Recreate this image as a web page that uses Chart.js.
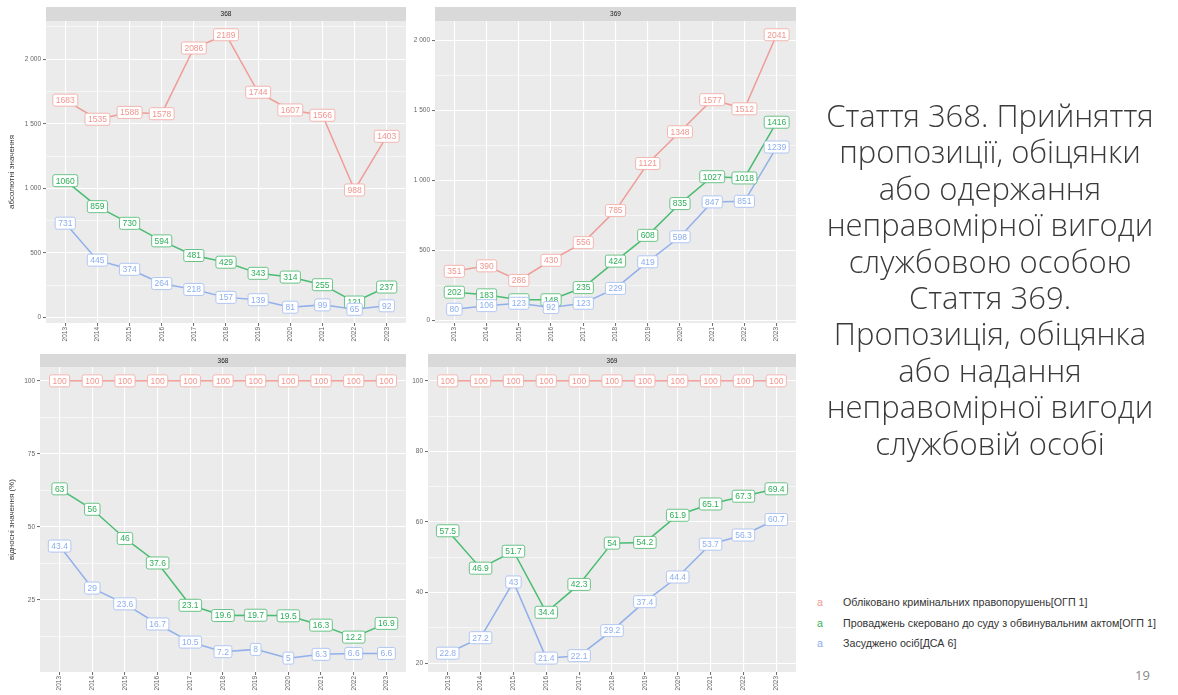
<!DOCTYPE html>
<html>
<head>
<meta charset="utf-8">
<script src="https://cdn.jsdelivr.net/npm/chart.js@4.4.1/dist/chart.umd.min.js"></script>
<style>
  html,body{margin:0;padding:0;background:#fff;}
  body{width:1178px;height:695px;position:relative;overflow:hidden;font-family:"Liberation Sans",Arial,sans-serif;}
  canvas.p{position:absolute;}
  #side{position:absolute;left:790px;width:400px;top:97px;text-align:center;font-family:"Open Sans",sans-serif;font-weight:300;font-size:31px;line-height:36.4px;color:#3a3a3a;white-space:nowrap;}
  #legend{position:absolute;left:817px;top:592px;font-size:10.7px;line-height:20.5px;color:#333;white-space:nowrap;}
  #legend .k{display:inline-block;width:26px;}
  #pg{position:absolute;left:1135px;top:666px;font-family:"Open Sans",sans-serif;font-size:13px;color:#8a8a8a;}
</style>
</head>
<body>
<canvas id="c1" class="p" width="410" height="350" style="left:0;top:0"></canvas>
<canvas id="c2" class="p" width="390" height="350" style="left:410px;top:0"></canvas>
<canvas id="c3" class="p" width="410" height="350" style="left:0;top:345px"></canvas>
<canvas id="c4" class="p" width="390" height="350" style="left:410px;top:345px"></canvas>

<div id="side">Стаття 368. Прийняття<br>пропозиції, обіцянки<br>або одержання<br>неправомірної вигоди<br>службовою особою<br>Стаття 369.<br>Пропозиція, обіцянка<br>або надання<br>неправомірної вигоди<br>службовій особі</div>

<div id="legend">
  <div><span class="k" style="color:#F29A93">a</span>Обліковано кримінальних правопорушень[ОГП 1]</div>
  <div><span class="k" style="color:#2FB25A">a</span>Проваджень скеровано до суду з обвинувальним актом[ОГП 1]</div>
  <div><span class="k" style="color:#86AAF0">a</span>Засуджено осіб[ДСА 6]</div>
</div>
<div id="pg">19</div>

<script>
// ---------- DATA ----------
const years = ['2013','2014','2015','2016','2017','2018','2019','2020','2021','2022','2023'];
const seriesNames = ['Обліковано кримінальних правопорушень[ОГП 1]','Проваджень скеровано до суду з обвинувальним актом[ОГП 1]','Засуджено осіб[ДСА 6]'];

// absolute, article 368
const abs368Registered = [1683,1535,1588,1578,2086,2189,1744,1607,1566,988,1403];
const abs368Indicted   = [1060,859,730,594,481,429,343,314,255,121,237];
const abs368Convicted  = [731,445,374,264,218,157,139,81,99,65,92];
// absolute, article 369
const abs369Registered = [351,390,286,430,556,785,1121,1348,1577,1512,2041];
const abs369Indicted   = [202,183,148,148,235,424,608,835,1027,1018,1416];
const abs369Convicted  = [80,106,123,92,123,229,419,598,847,851,1239];
// relative (%), article 368
const rel368Registered = [100,100,100,100,100,100,100,100,100,100,100];
const rel368Indicted   = [63,56,46,37.6,23.1,19.6,19.7,19.5,16.3,12.2,16.9];
const rel368Convicted  = [43.4,29,23.6,16.7,10.5,7.2,8,5,6.3,6.6,6.6];
// relative (%), article 369
const rel369Registered = [100,100,100,100,100,100,100,100,100,100,100];
const rel369Indicted   = [57.5,46.9,51.7,34.4,42.3,54,54.2,61.9,65.1,67.3,69.4];
const rel369Convicted  = [22.8,27.2,43,21.4,22.1,29.2,37.4,44.4,53.7,56.3,60.7];

// tick labels
const absTicks = [0,500,1000,1500,2000];
const rel368Ticks = [25,50,75,100];
const rel369Ticks = [20,40,60,80,100];

// ---------- STYLE ----------
const lineColors   = ['rgba(240,130,122,0.75)','rgba(20,172,72,0.75)','rgba(115,155,235,0.75)'];
const labelText    = ['#F0958E','#2EAE58','#8CAEEE'];
const labelBorder  = ['#F3AFA9','#5BBE7A','#A9C2F2'];
const FONT = '"Liberation Sans", Arial, sans-serif';

function fmt(v){ return String(v).replace(/\B(?=(\d{3})+(?!\d))/g,' '); }

const panelPlugin = {
  id:'panel',
  beforeDraw(chart){
    const {ctx, chartArea:a} = chart;
    const o = chart.options.plugins.panel;
    ctx.save();
    ctx.fillStyle = '#EBEBEB';
    ctx.fillRect(a.left, a.top, a.right-a.left, a.bottom-a.top);
    ctx.fillStyle = '#D9D9D9';
    ctx.fillRect(a.left, a.top - o.stripH, a.right-a.left, o.stripH);
    ctx.fillStyle = '#1A1A1A';
    ctx.font = '6.5px ' + FONT;
    ctx.textAlign = 'center'; ctx.textBaseline = 'middle';
    ctx.fillText(o.strip, (a.left+a.right)/2, a.top - o.stripH/2 + 0.5);
    ctx.restore();
  },
  afterDatasetsDraw(chart){
    const {ctx} = chart;
    const xs = chart.scales.x, ys = chart.scales.y;
    ctx.save();
    ctx.font = '8.5px ' + FONT;
    ctx.textAlign = 'center'; ctx.textBaseline = 'middle';
    chart.data.datasets.forEach((ds, di) => {
      ds.data.forEach(pt => {
        const x = xs.getPixelForValue(pt.x), y = ys.getPixelForValue(pt.y);
        const t = String(pt.y);
        const w = ctx.measureText(t).width + 6, h = 12;
        ctx.beginPath();
        ctx.roundRect(x - w/2, y - h/2, w, h, 2);
        ctx.fillStyle = '#fff'; ctx.fill();
        ctx.lineWidth = 0.9; ctx.strokeStyle = labelBorder[di]; ctx.stroke();
        ctx.fillStyle = labelText[di];
        ctx.fillText(t, x, y + 0.5);
      });
    });
    ctx.restore();
  }
};

function makePanel(id, strip, series, majors, yTitle, dims){
  const all = series.flat();
  const lo = Math.min(...all), hi = Math.max(...all), ex = (hi - lo) * 0.05;
  const ymin = lo - ex, ymax = hi + ex;
  const step = majors[1] - majors[0];
  const minors = [majors[0] - step/2, ...majors.map(m => m + step/2)].filter(v => v >= ymin && v <= ymax);
  const majorVis = majors.filter(v => v >= ymin && v <= ymax);
  const tickVals = [...majorVis, ...minors].sort((a,b)=>a-b);
  const isMajor = v => majorVis.includes(v);

  new Chart(document.getElementById(id), {
    type: 'line',
    data: {
      datasets: series.map((arr, di) => ({
        label: seriesNames[di],
        data: arr.map((v, i) => ({x: i, y: v})),
        borderColor: lineColors[di],
        borderWidth: 1.5,
        pointRadius: 0,
        tension: 0,
        fill: false
      }))
    },
    options: {
      responsive: false, animation: false, devicePixelRatio: 1,
      layout: { padding: { top: dims.padTop, right: dims.padRight, left: 0, bottom: 0 } },
      plugins: { legend: {display:false}, tooltip: {enabled:false}, panel: { strip, stripH: dims.stripH } },
      scales: {
        x: {
          type: 'linear', min: -0.6, max: years.length - 0.4,
          afterBuildTicks: s => { s.ticks = years.map((_, i) => ({value: i})); },
          afterFit: s => { s.height = dims.xH; s.paddingLeft = 0; s.paddingRight = 0; },
          ticks: { autoSkip: false, minRotation: 90, maxRotation: 90, padding: 1,
                   font: { size: 6.5, family: FONT }, color: '#666',
                   callback: v => years[v] },
          grid: { color: '#FFFFFF', lineWidth: 1.1, tickColor: '#444', tickLength: 3, tickWidth: 0.8 },
          border: { display: false }
        },
        y: {
          type: 'linear', min: ymin, max: ymax,
          afterBuildTicks: s => { s.ticks = tickVals.map(v => ({value: v})); },
          afterFit: s => { s.width = dims.yW; },
          ticks: { autoSkip: false, padding: 2, font: { size: 6.5, family: FONT }, color: '#666',
                   callback: v => isMajor(v) ? fmt(v) : '' },
          grid: { color: '#FFFFFF',
                  lineWidth: c => isMajor(c.tick.value) ? 1.1 : 0.55,
                  tickColor: c => isMajor(c.tick.value) ? '#444' : 'rgba(0,0,0,0)',
                  tickLength: 3, tickWidth: 0.8 },
          border: { display: false },
          title: { display: !!yTitle, text: yTitle || '', color: '#333',
                   font: { size: 8, family: FONT }, padding: { top: 7, bottom: 0 } }
        }
      }
    },
    plugins: [panelPlugin]
  });
}

makePanel('c1', '368', [abs368Registered, abs368Indicted, abs368Convicted], absTicks, 'абсолютні значення',
          {padTop: 21, padRight: 4, yW: 46, xH: 27, stripH: 14});
makePanel('c2', '369', [abs369Registered, abs369Indicted, abs369Convicted], absTicks, null,
          {padTop: 21, padRight: 4, yW: 25, xH: 27, stripH: 14});
makePanel('c3', '368', [rel368Registered, rel368Indicted, rel368Convicted], rel368Ticks, 'відносні значення (%)',
          {padTop: 22, padRight: 4, yW: 40, xH: 23, stripH: 13});
makePanel('c4', '369', [rel369Registered, rel369Indicted, rel369Convicted], rel369Ticks, null,
          {padTop: 22, padRight: 4, yW: 18, xH: 23, stripH: 13});
</script>
</body>
</html>
